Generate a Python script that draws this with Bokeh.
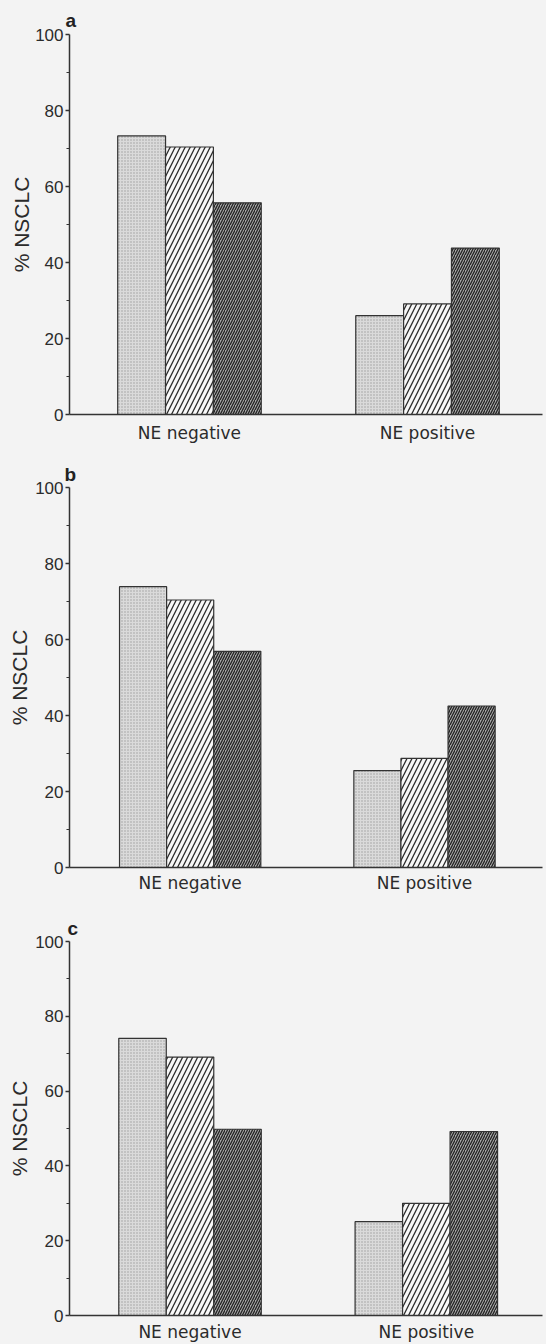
from bokeh.plotting import figure
from bokeh.models import Range1d, FixedTicker, ColumnDataSource, Title
from bokeh.layouts import column
from bokeh.transform import dodge
from bokeh.embed import file_html
from bokeh.resources import INLINE

# ---------------- data ----------------
categories = ["NE negative", "NE positive"]
panel_letters = ["a", "b", "c"]
y_ticks = [0, 20, 40, 60, 80, 100]
y_minor_ticks = [10, 30, 50, 70, 90]
y_label = "% NSCLC"

# series values per panel: [NE negative, NE positive]
a_s1 = [73.3, 26.0]
a_s2 = [70.4, 29.1]
a_s3 = [55.7, 43.8]

b_s1 = [73.9, 25.5]
b_s2 = [70.4, 28.7]
b_s3 = [56.9, 42.5]

c_s1 = [74.1, 25.1]
c_s2 = [69.1, 30.0]
c_s3 = [49.8, 49.2]

# ---------------- style ----------------
BG = "#f3f3f3"
AX = "#333333"
TXT = "#2b2b2b"
FIG_W = 546
BAR_W = 0.201

series_styles = [
    dict(fill_color="#dadada", hatch_pattern=".", hatch_scale=3, hatch_weight=0.6, hatch_color="#9c9c9c"),
    dict(fill_color="#f8f8f8", hatch_pattern="/", hatch_scale=10, hatch_weight=1.3, hatch_color="#2a2a2a"),
    dict(fill_color="#a8a8a8", hatch_pattern="/", hatch_scale=5, hatch_weight=1.3, hatch_color="#222222"),
]


def make_panel(letter, s1, s2, s3, height, top, bottom, left, right, xs, xe,
               cat_standoff, label_standoff, letter_offset, letter_standoff):
    p = figure(width=FIG_W, height=height,
               x_range=Range1d(xs, xe), y_range=Range1d(0, 100),
               output_backend="svg", toolbar_location=None,
               min_border_left=left, min_border_right=right,
               min_border_top=top, min_border_bottom=bottom,
               background_fill_color=BG, border_fill_color=BG)
    p.outline_line_color = None
    p.xgrid.visible = False
    p.ygrid.visible = False

    # panel letter as a left-aligned title
    p.add_layout(Title(text=letter, align="left", offset=letter_offset,
                       standoff=letter_standoff,
                       text_font="Liberation Sans", text_font_size="19px",
                       text_font_style="bold", text_color="#222222"), "above")

    xpos = list(range(len(categories)))
    for i, (vals, st) in enumerate(zip([s1, s2, s3], series_styles)):
        src = ColumnDataSource(dict(x=xpos, top=vals))
        p.vbar(x=dodge("x", (i - 1) * BAR_W, range=p.x_range), top="top", bottom=0,
               width=BAR_W, source=src, line_color="#333333", line_width=1.2, **st)

    # y axis
    ya = p.yaxis[0]
    ya.ticker = FixedTicker(ticks=y_ticks, minor_ticks=y_minor_ticks)
    ya.axis_label = y_label
    ya.axis_label_text_font = "Liberation Sans"
    ya.axis_label_text_font_size = "21px"
    ya.axis_label_text_font_style = "normal"
    ya.axis_label_text_color = TXT
    ya.axis_label_standoff = label_standoff
    ya.axis_line_color = AX
    ya.axis_line_width = 1.5
    ya.major_tick_line_color = AX
    ya.major_tick_line_width = 1.5
    ya.major_tick_out = 4
    ya.major_tick_in = 0
    ya.minor_tick_line_color = AX
    ya.minor_tick_out = 3
    ya.minor_tick_in = 0
    ya.major_label_text_font = "Liberation Sans"
    ya.major_label_text_font_size = "17px"
    ya.major_label_text_color = TXT
    ya.major_label_standoff = 2

    # x axis
    xa = p.xaxis[0]
    xa.ticker = FixedTicker(ticks=xpos)
    xa.major_label_overrides = {i: c for i, c in enumerate(categories)}
    xa.axis_line_color = AX
    xa.axis_line_width = 1.5
    xa.major_tick_line_color = None
    xa.major_tick_out = 0
    xa.major_tick_in = 0
    xa.minor_tick_line_color = None
    xa.major_label_text_font = "DejaVu Sans"
    xa.major_label_text_font_size = "17px"
    xa.major_label_text_color = TXT
    xa.major_label_standoff = cat_standoff
    return p


pa = make_panel(panel_letters[0], a_s1, a_s2, a_s3, height=445, top=34, bottom=30,
                left=69, right=0, xs=-0.504, xe=1.483, cat_standoff=8,
                label_standoff=-1, letter_offset=-4, letter_standoff=7)
pb = make_panel(panel_letters[1], b_s1, b_s2, b_s3, height=450, top=42, bottom=27,
                left=65, right=0, xs=-0.515, xe=1.5036, cat_standoff=5,
                label_standoff=1, letter_offset=-5, letter_standoff=6)
pc = make_panel(panel_letters[2], c_s1, c_s2, c_s3, height=449, top=46, bottom=25,
                left=64, right=4, xs=-0.510, xe=1.4916, cat_standoff=6,
                label_standoff=1, letter_offset=-2, letter_standoff=6)

layout = column(pa, pb, pc, spacing=0, styles={"background-color": BG})
open("out.html", "w").write(file_html(layout, INLINE))
